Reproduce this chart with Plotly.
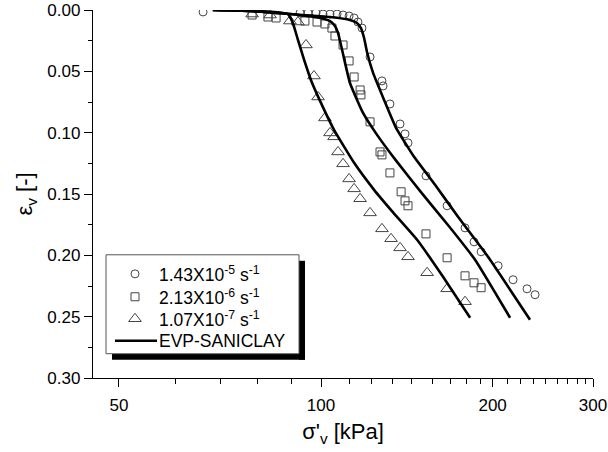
import plotly.graph_objects as go

# ---- data (sigma'_v in kPa, eps_v in -) ----
circ_x = [62.1, 91.9, 94.9, 98.0, 100.8, 103.7, 106.7, 109.3, 112.0, 114.3, 116.1, 118.0,
          121.9, 127.9, 128.5, 132.1, 137.6, 140.4, 142.1, 152.8, 166.4, 178.9, 185.5,
          190.9, 204.5, 217.2, 229.8, 237.4]
circ_y = [0.0016, 0.0024, 0.0024, 0.0024, 0.0033, 0.0033, 0.0033, 0.0041, 0.0049, 0.0065,
          0.0098, 0.0147, 0.0383, 0.0578, 0.0619, 0.0766, 0.0929, 0.1010, 0.1083, 0.1352,
          0.1596, 0.1776, 0.1890, 0.1971, 0.2085, 0.2199, 0.2273, 0.2321]

sq_x = [75.7, 80.7, 83.4, 93.7, 98.4, 101.6, 104.5, 105.8, 109.3, 112.0, 114.3, 117.1,
        117.5, 121.9, 126.9, 127.9, 132.1, 138.2, 140.4, 142.1, 152.8, 166.4, 178.9,
        185.5, 190.9]
sq_y = [0.0041, 0.0057, 0.0065, 0.0090, 0.0098, 0.0114, 0.0147, 0.0212, 0.0285, 0.0415,
        0.0546, 0.0652, 0.0692, 0.0912, 0.1157, 0.1181, 0.1328, 0.1482, 0.1556, 0.1596,
        0.1825, 0.2020, 0.2167, 0.2224, 0.2264]

tri_x = [75.7, 81.4, 88.2, 91.1, 94.1, 97.2, 98.8, 101.6, 103.7, 105.4, 107.1, 109.3,
         112.0, 114.3, 117.1, 121.9, 127.9, 132.7, 137.6, 142.1, 153.5, 166.4, 178.9]
tri_y = [0.0033, 0.0041, 0.0090, 0.0098, 0.0285, 0.0538, 0.0709, 0.0880, 0.1002, 0.1034,
         0.1157, 0.1254, 0.1377, 0.1458, 0.1539, 0.1654, 0.1784, 0.1865, 0.1939, 0.2012,
         0.2142, 0.2273, 0.2378]

# EVP-SANICLAY simulations
sim1_x = [64.6, 75.1, 83.0, 87.5, 88.6, 89.7, 91.1, 93.4, 96.0, 99.6, 105.4, 114.3, 123.9,
          134.0, 147.4, 163.7, 182.6]
sim1_y = [0.0, 0.0008, 0.0016, 0.0033, 0.0073, 0.0138, 0.0244, 0.0407, 0.0570, 0.0741,
          0.0977, 0.1246, 0.1466, 0.1654, 0.1873, 0.2175, 0.2509]
sim2_x = [64.6, 75.1, 88.2, 99.6, 103.7, 105.8, 107.1, 108.9, 112.4, 118.5, 125.4, 135.1,
          150.1, 167.4, 186.3, 214.6]
sim2_y = [0.0, 0.0008, 0.0033, 0.0065, 0.0090, 0.0130, 0.0187, 0.0326, 0.0595, 0.0839,
          0.1018, 0.1222, 0.1491, 0.1759, 0.2036, 0.2509]
sim3_x = [64.6, 75.1, 88.2, 103.7, 112.4, 115.6, 117.5, 119.0, 120.4, 123.4, 129.0, 135.4,
          145.6, 158.5, 173.9, 196.3, 232.6]
sim3_y = [0.0, 0.0008, 0.0033, 0.0057, 0.0081, 0.0106, 0.0147, 0.0228, 0.0342, 0.0513,
          0.0733, 0.0961, 0.1197, 0.1425, 0.1686, 0.2012, 0.2525]

legend_names = ["1.43X10<sup>-5</sup> s<sup>-1</sup>",
                "2.13X10<sup>-6</sup> s<sup>-1</sup>",
                "1.07X10<sup>-7</sup> s<sup>-1</sup>",
                "EVP-SANICLAY"]

x_tickvals = [44.2, 100, 200, 300]
x_ticktext = ["50", "100", "200", "300"]
x_minor = [55.5, 66.5, 77.5, 88.6, 112.4, 122.4, 133.2, 144.4, 156.6, 168.4, 179.7, 190.1,
           212, 223.4, 235.5, 247.2, 259.4, 270.2, 281.3, 290.6]
y_tickvals = [0.00, 0.05, 0.10, 0.15, 0.20, 0.25, 0.30]

FONT = "Arial, Liberation Sans, sans-serif"
MC = "#444444"

markers = [dict(symbol="circle-open", size=8, color=MC, line=dict(width=1, color=MC)),
           dict(symbol="square-open", size=8, color=MC, line=dict(width=1, color=MC)),
           dict(symbol="triangle-up-open", size=11, color=MC, line=dict(width=1, color=MC))]
SIM_LINE = dict(color="black", width=2.6, shape="spline", smoothing=0.4)

fig = go.Figure()
for (xs, ys), mk, nm in zip([(circ_x, circ_y), (sq_x, sq_y), (tri_x, tri_y)], markers, legend_names):
    fig.add_trace(go.Scatter(x=xs, y=ys, mode="markers", name=nm, marker=mk, showlegend=False))
for sx, sy in [(sim1_x, sim1_y), (sim2_x, sim2_y), (sim3_x, sim3_y)]:
    fig.add_trace(go.Scatter(x=sx, y=sy, mode="lines", name=legend_names[3],
                             showlegend=False, line=SIM_LINE))

# ---- hand-drawn legend (box with drop shadow) on an overlay frame [0,1]x[0,1] ----
leg_sym_x = 0.084
leg_line_x = [0.044, 0.128]
leg_row_y = [0.283, 0.2207, 0.161, 0.1013]
for mk, ry, nm in zip(markers, leg_row_y[:3], legend_names[:3]):
    fig.add_trace(go.Scatter(x=[leg_sym_x], y=[ry], mode="markers", marker=mk, xaxis="x2", yaxis="y2",
                             showlegend=False, hoverinfo="skip", name=nm))
fig.add_trace(go.Scatter(x=leg_line_x, y=[leg_row_y[3]] * 2, mode="lines", xaxis="x2", yaxis="y2",
                         line=dict(color="black", width=2.6), showlegend=False, hoverinfo="skip",
                         name=legend_names[3]))
for ry, nm in zip(leg_row_y, legend_names):
    fig.add_annotation(x=0.128, y=ry, xref="x2", yref="y2", text=nm, showarrow=False,
                       xanchor="left", yanchor="middle", font=dict(family=FONT, size=17.5, color="black"))

fig.add_shape(type="rect", xref="paper", yref="paper", x0=0.412, x1=0.424, y0=0.0497, y1=0.3185,
              fillcolor="black", line=dict(width=0), layer="below")
fig.add_shape(type="rect", xref="paper", yref="paper", x0=0.038, x1=0.424, y0=0.0497, y1=0.066,
              fillcolor="black", line=dict(width=0), layer="below")
fig.add_shape(type="rect", xref="paper", yref="paper", x0=0.026, x1=0.412, y0=0.066, y1=0.3348,
              fillcolor="white", line=dict(width=1, color="#555555"), layer="below")

fig.update_layout(
    width=608, height=452,
    margin=dict(l=93, r=15, t=10, b=74),
    paper_bgcolor="white", plot_bgcolor="white",
    font=dict(family=FONT, size=17, color="black"),
    showlegend=False,
    xaxis=dict(type="log", range=[1.6, 2.4771], automargin=False,
               tickmode="array", tickvals=x_tickvals, ticktext=x_ticktext,
               ticks="outside", ticklen=8, tickwidth=1.3, tickcolor="black",
               minor=dict(tickmode="array", tickvals=x_minor, ticks="outside", ticklen=5,
                          tickwidth=1.3, tickcolor="black"),
               showline=True, linecolor="black", linewidth=1.3, showgrid=False, zeroline=False,
               ticklabelstandoff=3,
               tickfont=dict(family=FONT, size=17),
               title=dict(text="σ'<sub>v</sub> [kPa]", font=dict(family=FONT, size=22), standoff=10)),
    yaxis=dict(range=[0.30, 0.0], automargin=False,
               tickmode="array", tickvals=y_tickvals, tickformat=".2f",
               ticks="outside", ticklen=8, tickwidth=1.3, tickcolor="black",
               minor=dict(dtick=0.025, tick0=0.025, ticks="outside", ticklen=4, tickwidth=1.3,
                          tickcolor="black"),
               showline=True, linecolor="black", linewidth=1.3, showgrid=False, zeroline=False,
               tickfont=dict(family=FONT, size=17),
               title=dict(text="ε<sub>v</sub> [-]", font=dict(family=FONT, size=22), standoff=8)),
    xaxis2=dict(overlaying="x", anchor="y2", range=[0, 1], visible=False, fixedrange=True),
    yaxis2=dict(overlaying="y", anchor="x2", range=[0, 1], visible=False, fixedrange=True),
)

fig.write_html("out.html")
